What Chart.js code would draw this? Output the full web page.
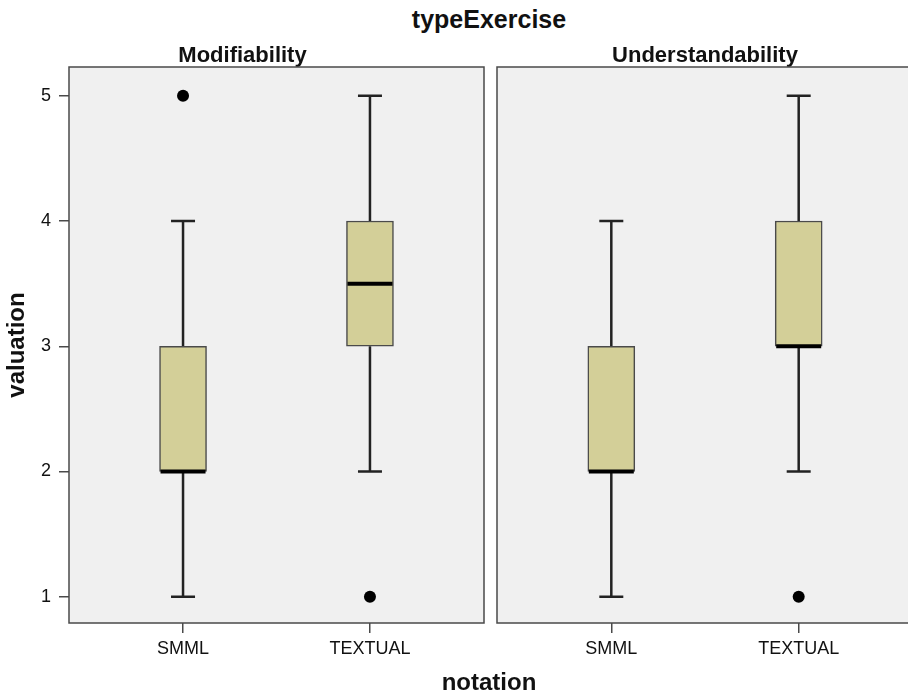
<!DOCTYPE html>
<html>
<head>
<meta charset="utf-8">
<script src="https://cdn.jsdelivr.net/npm/chart.js@4.4.0/dist/chart.umd.min.js"></script>
<style>
  body { margin: 0; width: 908px; height: 693px; overflow: hidden; position: relative; background: #fff; }
  .lbl { position: absolute; font-family: 'Liberation Sans', Arial, sans-serif; font-weight: bold; font-size: 24px; line-height: 24px; text-align: center; color: #111; }
  .panel { position: absolute; top: 0; height: 693px; }
</style>
</head>
<body>
<div class="lbl" style="left:389px;width:200px;top:7px;font-size:25px;">typeExercise</div>
<div class="panel" style="left:0;width:490px;"><canvas id="chartMod"></canvas></div>
<div class="panel" style="left:491px;width:430px;"><canvas id="chartUnd"></canvas></div>
<div class="lbl" style="left:389px;width:200px;top:670px;">notation</div>
<script>
// categorias e valores
const categories = ['SMML', 'TEXTUAL'];
const yTicks = [1, 2, 3, 4, 5];

// Modifiability
const modMin = [1, 2];
const modQ1 = [2, 3];
const modMedian = [2, 3.5];
const modQ3 = [3, 4];
const modMax = [4, 5];
const modOutliers = [[5], [1]];

// Understandability
const undMin = [1, 2];
const undQ1 = [2, 3];
const undMedian = [2, 3];
const undQ3 = [3, 4];
const undMax = [4, 5];
const undOutliers = [[], [1]];

const FONT = "'Liberation Sans', Arial, sans-serif";

// fundo cinza e moldura do painel
const panelPlugin = {
  id: 'panel',
  beforeDraw(chart) {
    const a = chart.chartArea, ctx = chart.ctx;
    ctx.save();
    ctx.fillStyle = '#f0f0f0';
    ctx.fillRect(a.left, a.top, a.right - a.left, a.bottom - a.top);
    ctx.restore();
  },
  afterDraw(chart) {
    const a = chart.chartArea, ctx = chart.ctx;
    ctx.save();
    ctx.strokeStyle = '#4a4a4a';
    ctx.lineWidth = 1.5;
    ctx.strokeRect(a.left, a.top, a.right - a.left, a.bottom - a.top);
    ctx.restore();
  }
};

// bigodes e mediana
const boxPlugin = {
  id: 'boxExtras',
  beforeDatasetsDraw(chart, args, opts) {
    const x = chart.scales.x, y = chart.scales.y, ctx = chart.ctx;
    ctx.save();
    ctx.strokeStyle = '#222';
    ctx.lineWidth = 2.5;
    opts.min.forEach((mn, i) => {
      const px = x.getPixelForValue(i);
      const cap = 12;
      ctx.beginPath();
      ctx.moveTo(px, y.getPixelForValue(mn));
      ctx.lineTo(px, y.getPixelForValue(opts.q1[i]));
      ctx.moveTo(px, y.getPixelForValue(opts.q3[i]));
      ctx.lineTo(px, y.getPixelForValue(opts.max[i]));
      ctx.moveTo(px - cap, y.getPixelForValue(mn));
      ctx.lineTo(px + cap, y.getPixelForValue(mn));
      ctx.moveTo(px - cap, y.getPixelForValue(opts.max[i]));
      ctx.lineTo(px + cap, y.getPixelForValue(opts.max[i]));
      ctx.stroke();
    });
    ctx.restore();
  },
  afterDatasetsDraw(chart, args, opts) {
    const x = chart.scales.x, y = chart.scales.y, ctx = chart.ctx;
    ctx.save();
    ctx.strokeStyle = '#000';
    ctx.lineWidth = 4;
    opts.median.forEach((md, i) => {
      const px = x.getPixelForValue(i);
      const py = y.getPixelForValue(md);
      ctx.beginPath();
      ctx.moveTo(px - 22.5, py);
      ctx.lineTo(px + 22.5, py);
      ctx.stroke();
    });
    ctx.restore();
  }
};

function criarPainel(id, titulo, min, q1, median, q3, max, outliers, mostrarY) {
  const outlierPts = [];
  outliers.forEach((lista, i) => lista.forEach(v => outlierPts.push({ x: i, y: v })));

  return new Chart(document.getElementById(id), {
    type: 'bar',
    data: {
      datasets: [
        {
          data: categories.map((c, i) => ({ x: i, y: [q1[i], q3[i]] })),
          backgroundColor: '#d3cf98',
          borderColor: '#4a4a4a',
          borderWidth: 1.5,
          borderSkipped: false,
          barThickness: 47
        },
        {
          type: 'scatter',
          data: outlierPts,
          pointRadius: 6,
          backgroundColor: '#000',
          borderWidth: 0
        }
      ]
    },
    plugins: [panelPlugin, boxPlugin],
    options: {
      responsive: false,
      animation: false,
      layout: { padding: { left: mostrarY ? 0 : 6, right: mostrarY ? 5 : 8, top: 0, bottom: 0 } },
      plugins: {
        legend: { display: false },
        tooltip: { enabled: false },
        title: {
          display: true,
          text: titulo,
          color: '#111',
          font: { family: FONT, size: 22, weight: 'bold', lineHeight: 1 },
          padding: { top: 45, bottom: 0 }
        },
        boxExtras: { min, q1, median, q3, max }
      },
      scales: {
        x: {
          type: 'linear',
          offset: false,
          min: -0.61,
          max: 1.61,
          afterBuildTicks: s => { s.ticks = categories.map((c, i) => ({ value: i })); },
          afterFit: s => { s.height = 70; },
          ticks: {
            callback: v => categories[v],
            color: '#111',
            padding: 5,
            font: { family: FONT, size: 18 }
          },
          grid: { offset: false, drawOnChartArea: false, color: '#4a4a4a', lineWidth: 1.5, tickLength: 10 },
          border: { display: false }
        },
        y: {
          display: mostrarY,
          min: 0.79,
          max: 5.23,
          afterBuildTicks: s => { s.ticks = yTicks.map(v => ({ value: v })); },
          afterFit: s => { if (mostrarY) s.width = 69; },
          ticks: {
            color: '#111',
            padding: 8,
            font: { family: FONT, size: 18 }
          },
          grid: { drawOnChartArea: false, color: '#4a4a4a', lineWidth: 1.5, tickLength: 10 },
          border: { display: false },
          title: {
            display: true,
            text: 'valuation',
            color: '#111',
            font: { family: FONT, size: 24, weight: 'bold' },
            padding: { top: 3, bottom: 0 }
          }
        }
      }
    }
  });
}

const c1 = document.getElementById('chartMod');
c1.width = 490; c1.height = 693;
const c2 = document.getElementById('chartUnd');
c2.width = 430; c2.height = 693;

criarPainel('chartMod', 'Modifiability', modMin, modQ1, modMedian, modQ3, modMax, modOutliers, true);
criarPainel('chartUnd', 'Understandability', undMin, undQ1, undMedian, undQ3, undMax, undOutliers, false);
</script>
</body>
</html>
